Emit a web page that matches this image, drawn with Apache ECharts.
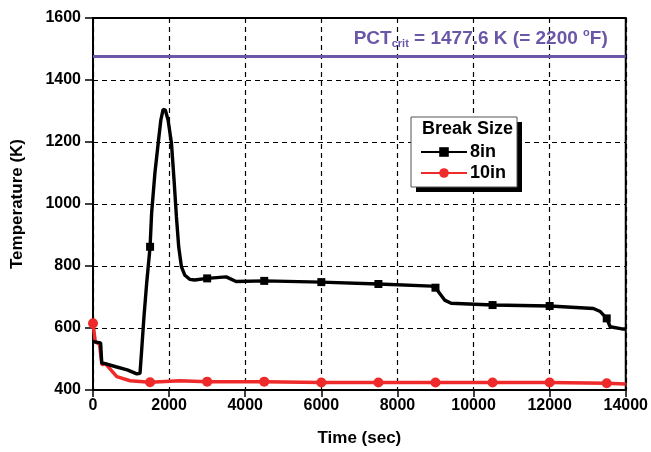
<!DOCTYPE html>
<html>
<head>
<meta charset="utf-8">
<script src="https://cdn.jsdelivr.net/npm/echarts@6/dist/echarts.min.js"></script>
<style>
  html, body { margin: 0; padding: 0; background: #fff; }
  #main { width: 651px; height: 452px; }
</style>
</head>
<body>
<div id="main"></div>
<script>
// 8in break: time (s) and peak cladding temperature (K)
const time8 = [0, 200, 230, 320, 600, 900, 1150, 1235, 1279, 1339, 1410, 1500, 1540, 1626, 1713, 1783, 1843, 1870, 1900, 1973, 2062, 2130, 2192, 2252, 2323, 2409, 2540, 2670, 3000, 3500, 3760, 4500, 6000, 7500, 8900, 9000, 9240, 9410, 10500, 12000, 13150, 13330, 13500, 13590, 13900, 14000]
const temp8 = [556, 552, 487, 485, 475, 465, 452, 454, 529, 636, 744, 862, 970, 1099, 1196, 1271, 1305, 1309, 1303, 1271, 1196, 1077, 959, 862, 798, 771, 757, 755, 760, 765, 750, 752, 748, 742, 735, 730, 690, 680, 674, 671, 663, 653, 631, 604, 597, 597]
const marks8 = [1500, 3000, 4500, 6000, 7500, 9000, 10500, 12000, 13500]

// 10in break
const time10 = [0, 60, 170, 235, 320, 625, 975, 1500, 2280, 3000, 4500, 6000, 7500, 9000, 10500, 12000, 13500, 14000]
const temp10 = [615, 556, 548, 481, 486, 443, 430, 425, 430, 427, 427, 424, 424, 424, 424, 424, 422, 419]
const marks10 = [0, 1500, 3000, 4500, 6000, 7500, 9000, 10500, 12000, 13500]

const pctCrit = 1477.6

const font = 'Liberation Sans'

function buildData(times, temps, marks) {
    return times.map(function (t, i) {
        const item = { value: [t, temps[i]] }
        if (marks.indexOf(t) < 0) item.symbol = 'none'
        return item
    })
}

const myChart = echarts.init(document.getElementById('main'))

const option = {
    animation: false,
    textStyle: { fontFamily: font },
    grid: {
        left: 93, right: 22, top: 18, bottom: 62,
        show: true, borderColor: '#000', borderWidth: 2
    },
    xAxis: {
        type: 'value',
        min: 0, max: 14000, interval: 2000,
        name: 'Time (sec)',
        nameLocation: 'middle',
        nameGap: 40,
        nameTextStyle: { fontSize: 17, fontWeight: 'bold', color: '#000' },
        axisLine: { lineStyle: { color: '#000', width: 2 } },
        axisTick: { show: true, length: 7, lineStyle: { color: '#000', width: 1.5 } },
        axisLabel: { fontSize: 16, fontWeight: 'bold', color: '#000', margin: 8, formatter: function (v) { return String(v) } },
        splitLine: { lineStyle: { color: '#000', type: [5, 4], width: 1.2 } }
    },
    yAxis: {
        type: 'value',
        min: 400, max: 1600, interval: 200,
        name: 'Temperature (K)',
        nameLocation: 'middle',
        nameGap: 67,
        nameTextStyle: { fontSize: 17, fontWeight: 'bold', color: '#000' },
        axisLine: { show: true, lineStyle: { color: '#000', width: 2 } },
        axisTick: { show: true, length: 8, lineStyle: { color: '#000', width: 1.5 } },
        axisLabel: { fontSize: 16, fontWeight: 'bold', color: '#000', margin: 12, formatter: function (v) { return String(v) } },
        splitLine: { lineStyle: { color: '#000', type: [5, 4], width: 1.2 } }
    },
    legend: {
        orient: 'vertical',
        left: 420, top: 143,
        padding: 0,
        itemGap: 3,
        itemWidth: 46,
        itemHeight: 12,
        z: 10,
        textStyle: { fontSize: 18, fontWeight: 'bold', color: '#000', padding: [0, 0, 0, -2] },
        data: ['8in', '10in']
    },
    graphic: [
        {
            type: 'rect', z: 5,
            shape: { x: 416, y: 122, width: 106, height: 70 },
            style: { fill: '#000' }
        },
        {
            type: 'rect', z: 6,
            shape: { x: 411, y: 117, width: 106, height: 70 },
            style: { fill: '#fff', stroke: '#555', lineWidth: 1 }
        },
        {
            type: 'text', z: 7,
            left: 422, top: 120,
            style: { text: 'Break Size', font: 'bold 18px "Liberation Sans"', fill: '#000' }
        }
    ],
    series: [
        {
            name: '8in',
            type: 'line',
            symbol: 'rect',
            symbolSize: 8,
            showAllSymbol: true,
            lineStyle: { color: '#000', width: 3.4 },
            itemStyle: { color: '#000' },
            data: buildData(time8, temp8, marks8),
            z: 3,
            markLine: {
                silent: true,
                symbol: 'none',
                lineStyle: { color: '#6b57a8', width: 3, type: 'solid' },
                label: {
                    position: 'insideEndTop',
                    distance: [18, 6],
                    formatter: '{a|PCT}{b|crit}{a| = 1477.6 K (= 2200 }{c|o}{a|F)}',
                    rich: {
                        a: { fontSize: 19, fontWeight: 'bold', color: '#6b57a8', fontFamily: font, lineHeight: 22 },
                        b: { fontSize: 11, fontWeight: 'bold', color: '#6b57a8', fontFamily: font, verticalAlign: 'bottom', lineHeight: 22, padding: [9, 0, 0, 0] },
                        c: { fontSize: 11, fontWeight: 'bold', color: '#6b57a8', fontFamily: font, verticalAlign: 'top', lineHeight: 22, padding: [0, 0, 9, 0] }
                    }
                },
                data: [{ yAxis: pctCrit }]
            }
        },
        {
            name: '10in',
            type: 'line',
            symbol: 'circle',
            symbolSize: 10,
            showAllSymbol: true,
            lineStyle: { color: '#ee2a2a', width: 3.5 },
            itemStyle: { color: '#ee2a2a' },
            data: buildData(time10, temp10, marks10),
            z: 2
        }
    ]
}

myChart.setOption(option)
</script>
</body>
</html>
